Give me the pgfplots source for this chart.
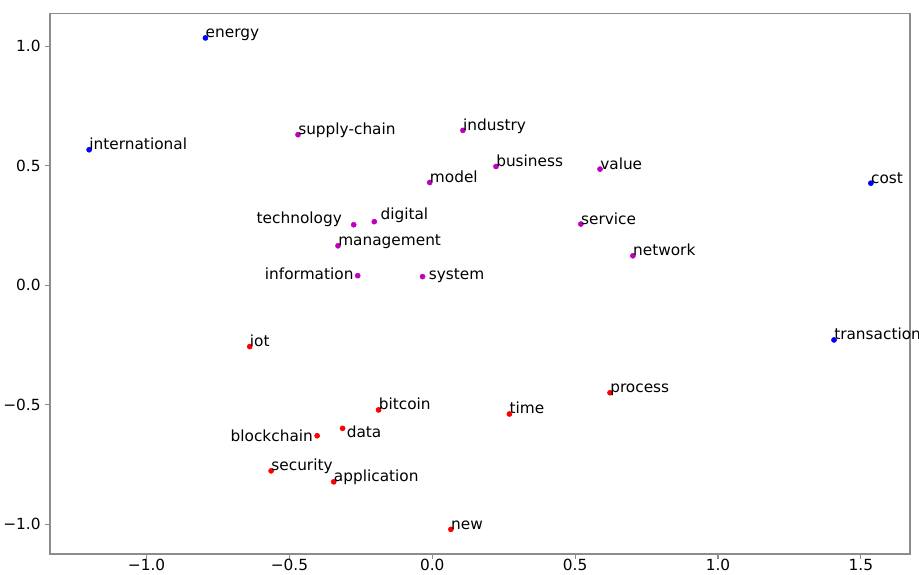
\documentclass[border=0pt]{standalone}
\usepackage{pgfplots}
\pgfplotsset{compat=1.18}
\usepackage{pgfplotstable}
\usepackage{fontspec}
\setmainfont{DejaVu Sans}
\definecolor{mplblue}{rgb}{0,0,1}
\definecolor{mplmag}{rgb}{0.75,0,0.75}
\definecolor{mplred}{rgb}{1,0,0}
\definecolor{spine}{rgb}{0.55,0.55,0.55}
\newcommand{\lab}{\fontsize{11.5}{13}\selectfont}

% dx, dy in pt (dy positive = downward)
\pgfplotstableread{
x y label dx dy
-1.201 0.567 international 0 0
-0.794 1.035 energy 0 0
1.535 0.427 cost 0 0
1.406 -0.229 transaction 0 0
}\bluedata

\pgfplotstableread{
x y label dx dy
-0.470 0.630 supply-chain 0 0
0.107 0.648 industry 0 0
0.223 0.497 business 0 0
0.587 0.486 value 0 0
-0.009 0.430 model 0 0
-0.203 0.266 digital 4.5 -1.8
0.520 0.256 service 0 0
-0.330 0.165 management 0 0
0.702 0.123 network 0 0
-0.034 0.036 system 4.5 2.5
}\magdata

\pgfplotstableread{
x y label dx dy
-0.275 0.253 technology -8.7 -1.3
-0.261 0.040 information -3 3.2
}\magleft

\pgfplotstableread{
x y label dx dy
-0.639 -0.257 iot 0 0
0.622 -0.450 process 0 0
-0.188 -0.522 bitcoin 0 0
0.270 -0.539 time 0 0
-0.314 -0.599 data 3 6.7
-0.564 -0.777 security 0 0
-0.345 -0.823 application 0 0
0.065 -1.022 new 0 0
}\reddata

\pgfplotstableread{
x y label dx dy
-0.403 -0.630 blockchain -3 4.5
}\redleft

\pgfplotsset{
  lbl/.style={
    only marks, mark=*, mark size=1.9pt, color=#1,
    nodes near coords, point meta=explicit symbolic,
    visualization depends on={\thisrow{dx}\as\dx},
    visualization depends on={\thisrow{dy}\as\dy},
    every node near coord/.style={anchor=base west, inner sep=0pt,
      xshift=\dx pt, yshift=-\dy pt, text=black, font=\lab},
  },
  lblleft/.style={lbl=#1,
    every node near coord/.append style={anchor=base east}},
}

\begin{document}
\begin{tikzpicture}
\useasboundingbox (-37.5pt,-15pt) rectangle (651.75pt,415.5pt);
\begin{axis}[
  scale only axis,
  width=645pt, height=405.5pt,
  xmin=-1.338, xmax=1.672, ymin=-1.125, ymax=1.138,
  clip=false,
  axis line style={spine, line width=0.9pt},
  tick align=outside,
  xtick pos=bottom, ytick pos=left,
  major tick length=3.5pt,
  tick style={spine, line width=0.8pt},
  xtick={-1,-0.5,0,0.5,1,1.5},
  xticklabels={−1.0,−0.5,0.0,0.5,1.0,1.5},
  ytick={-1,-0.5,0,0.5,1},
  yticklabels={−1.0,−0.5,0.0,0.5,1.0},
  ticklabel style={font=\lab, text=black},
  xticklabel style={yshift=3pt},
]
\addplot[lbl=mplblue] table[x=x,y=y,meta=label] {\bluedata};
\addplot[lbl=mplmag] table[x=x,y=y,meta=label] {\magdata};
\addplot[lblleft=mplmag] table[x=x,y=y,meta=label] {\magleft};
\addplot[lbl=mplred] table[x=x,y=y,meta=label] {\reddata};
\addplot[lblleft=mplred] table[x=x,y=y,meta=label] {\redleft};
\end{axis}
\end{tikzpicture}
\end{document}
